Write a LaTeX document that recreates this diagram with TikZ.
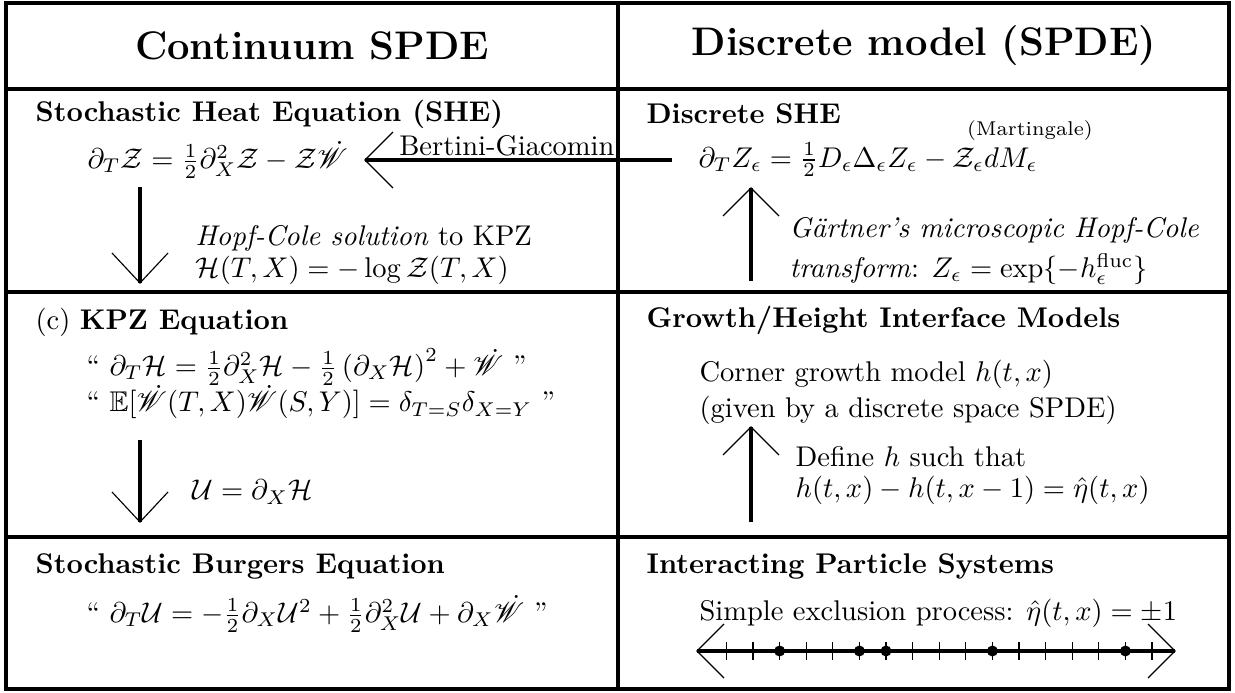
\documentclass[tikz,border=0pt]{standalone}
\usepackage{amsmath,amssymb,mathrsfs}
\newcommand{\arrwings}[3]{\draw[wing] (#1) ++(#2) -- (#1) -- ++(#3);}
\begin{document}
\begin{tikzpicture}[x=0.351pt,y=-0.351pt,
  frame/.style={line width=1.15pt},
  shaft/.style={line width=1.3pt},
  wing/.style={line width=0.4pt},
  tick/.style={line width=0.4pt},
  txt/.style={anchor=west,inner sep=0pt},
  ttl/.style={anchor=west,inner sep=0pt,font=\bfseries},
  hdr/.style={inner sep=0pt,font=\fontsize{14}{17}\selectfont\bfseries}]
\useasboundingbox (0,0) rectangle (1235,693);
% frame
\draw[frame] (6,3) rectangle (1229,689);
\draw[frame] (618,3) -- (618,689);
\draw[frame] (6,89) -- (1229,89);
\draw[frame] (6,292) -- (1229,292);
\draw[frame] (6,537) -- (1229,537);
% headers
\node[hdr] (hL) at (312,46) {Continuum SPDE};
\node[hdr] (hR) at (924,46) {Discrete model (SPDE)};
% row 1 left
\node[ttl] (sheT) at (35,114) {Stochastic Heat Equation (SHE)};
\node[txt] (sheE) at (87,160) {$\partial_T \mathcal{Z} = \frac{1}{2}\partial_X^2 \mathcal{Z} - \mathcal{Z}\dot{\mathscr{W}}$};
\node[txt] (hc1) at (195,238) {\textit{Hopf-Cole solution} to KPZ};
\node[txt] (hc2) at (195,270) {$\mathcal{H}(T,X) = -\log\mathcal{Z}(T,X)$};
\coordinate (a1s) at (140,187);
\coordinate (a1e) at (140,283);
\draw[shaft] (a1s) -- (a1e);
\arrwings{a1e}{-28,-30}{28,-30}
% Bertini-Giacomin
\coordinate (bgS) at (672,160);
\coordinate (bgE) at (365,160);
\draw[shaft] (bgS) -- (bgE);
\arrwings{bgE}{28,-28}{28,28}
\node[txt,anchor=base east] (bg) at (615,156) {Bertini-Giacomin};
% row 1 right
\node[ttl] (dT) at (646,114) {Discrete SHE};
\node[txt] (dE) at (698,160) {$\partial_T Z_\epsilon = \frac{1}{2}D_\epsilon\Delta_\epsilon Z_\epsilon - \mathcal{Z}_\epsilon dM_\epsilon$};
\node[inner sep=0pt,font=\scriptsize] (mart) at (1030,131) {(Martingale)};
\coordinate (a2s) at (751,281);
\coordinate (a2e) at (751,188);
\draw[shaft] (a2s) -- (a2e);
\arrwings{a2e}{-28,28}{28,28}
\node[txt] (g1) at (789,230) {\textit{Gärtner\textquoteright s microscopic Hopf-Cole}};
\node[txt] (g2) at (789,269) {\textit{transform}: $Z_\epsilon = \exp\{-h_\epsilon^{\mathrm{fluc}}\}$};
% row 2 left
\node[txt] (kT) at (35,322) {(c) \textbf{KPZ Equation}};
\node[txt] (k1) at (86,367) {“ $\partial_T\mathcal{H} = \frac{1}{2}\partial_X^2\mathcal{H} - \frac{1}{2}\left(\partial_X\mathcal{H}\right)^2 + \dot{\mathscr{W}}$ ”};
\node[txt] (k2) at (86,402) {“ $\mathbb{E}[\dot{\mathscr{W}}(T,X)\dot{\mathscr{W}}(S,Y)] = \delta_{T=S}\delta_{X=Y}$ ”};
\coordinate (a3s) at (140,440);
\coordinate (a3e) at (140,522);
\draw[shaft] (a3s) -- (a3e);
\arrwings{a3e}{-28,-30}{28,-30}
\node[txt] (u1) at (192,492) {$\mathcal{U} = \partial_X\mathcal{H}$};
% row 2 right
\node[ttl] (gT) at (646,320) {Growth/Height Interface Models};
\node[txt] (c1) at (699,374) {Corner growth model $h(t,x)$};
\node[txt] (c2) at (699,410) {(given by a discrete space SPDE)};
\coordinate (a4s) at (751,522);
\coordinate (a4e) at (751,427);
\draw[shaft] (a4s) -- (a4e);
\arrwings{a4e}{-28,28}{28,28}
\node[txt] (d1) at (795,457) {Define $h$ such that};
\node[txt] (d2) at (795,490) {$h(t,x) - h(t,x-1) = \hat{\eta}(t,x)$};
% row 3 left
\node[ttl] (bT) at (35,566) {Stochastic Burgers Equation};
\node[txt] (bE) at (86,614) {“ $\partial_T\mathcal{U} = -\frac{1}{2}\partial_X\mathcal{U}^2 + \frac{1}{2}\partial_X^2\mathcal{U} + \partial_X\dot{\mathscr{W}}$ ”};
% row 3 right
\node[ttl] (iT) at (646,566) {Interacting Particle Systems};
\node[txt] (s1) at (699,613) {Simple exclusion process: $\hat{\eta}(t,x) = \pm 1$};
\coordinate (nlL) at (697,651);
\coordinate (nlR) at (1175,651);
\draw[shaft] (nlL) -- (nlR);
\arrwings{nlL}{27,-27}{27,27}
\arrwings{nlR}{-27,-27}{-27,27}
\foreach \k in {0,...,16} {
  \draw[tick] (726.4+26.6*\k,642) -- (726.4+26.6*\k,660);
}
\foreach \k in {2,5,6,10,15} {
  \fill (726.4+26.6*\k,651) circle[radius=5.5];
}
\end{tikzpicture}
\end{document}
